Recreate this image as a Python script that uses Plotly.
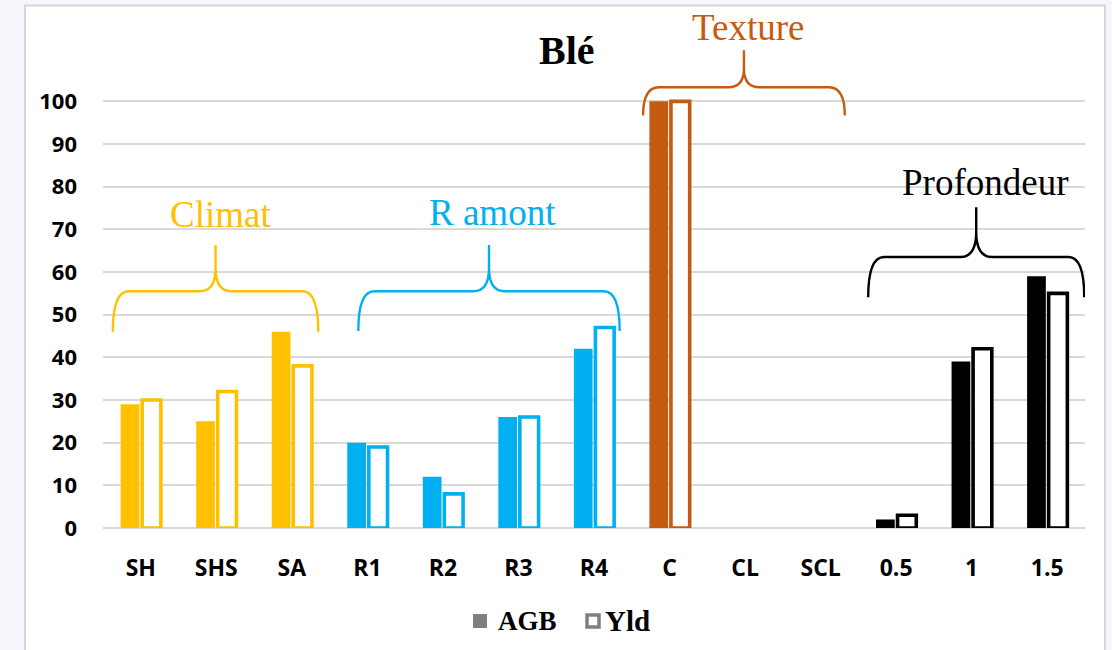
import plotly.graph_objects as go

# Categories and values (percent)
categories = ["SH", "SHS", "SA", "R1", "R2", "R3", "R4", "C", "CL", "SCL", "0.5", "1", "1.5"]
agb = [29, 25, 46, 20, 12, 26, 42, 100, 0, 0, 2, 39, 59]
yld = [30, 32, 38, 19, 8, 26, 47, 100, 0, 0, 3, 42, 55]
y_ticks = [0, 10, 20, 30, 40, 50, 60, 70, 80, 90, 100]
series_names = ["AGB", "Yld"]

# Factor groups: label, colour, first and last category index
groups = [
    ("Climat", "#FFC000", 0, 2),
    ("R amont", "#00B0F0", 3, 6),
    ("Texture", "#C55A11", 7, 9),
    ("Profondeur", "#000000", 10, 12),
]

# Brace geometry per group (x span in category units, heights in axis units)
brace_spec = {
    "Climat":     dict(x0=-0.37, x1=2.35, y_end=46.0, y_h=55.5, y_tip=66.3, y_txt=73.5, x_txt=1.05),
    "R amont":    dict(x0=2.88, x1=6.34, y_end=46.2, y_h=55.5, y_tip=66.3, y_txt=74.0, x_txt=4.66),
    "Texture":    dict(x0=6.65, x1=9.32, y_end=96.7, y_h=103.3, y_tip=112.0, y_txt=117.2, x_txt=8.04),
    "Profondeur": dict(x0=9.63, x1=12.49, y_end=54.1, y_h=63.5, y_tip=75.2, y_txt=81.0, x_txt=11.18),
}

colour_of = {}
for name, col, i0, i1 in groups:
    for i in range(i0, i1 + 1):
        colour_of[i] = col
bar_colours = [colour_of[i] for i in range(len(categories))]
xs = list(range(len(categories)))

fig = go.Figure()
fig.add_trace(go.Bar(
    x=xs, y=agb, name=series_names[0], showlegend=False,
    marker=dict(color=bar_colours, line=dict(width=0)),
))
fig.add_trace(go.Bar(
    x=xs, y=yld, name=series_names[1], showlegend=False,
    marker=dict(color="white",
                line=dict(color=bar_colours, width=[3.6 if v > 0 else 0 for v in yld])),
))

L, R, T, B = 103, 27, 16, 122
W, H = 1112, 650
pw, ph = W - L - R, H - T - B


def px_x(p):
    return (p - L) / pw


def px_y(p):
    return (H - B - p) / ph


shapes = []
# Outer white card with grey border
shapes.append(dict(type="rect", xref="paper", yref="paper",
                   x0=px_x(25), x1=px_x(1105), y0=-0.4, y1=px_y(5.5),
                   fillcolor="white", line=dict(color="#d6d6d6", width=2),
                   layer="below"))

annotations = []
for name, col, i0, i1 in groups:
    s = brace_spec[name]
    x0, x1, ye, yh, yt = s["x0"], s["x1"], s["y_end"], s["y_h"], s["y_tip"]
    xm = (x0 + x1) / 2
    dx = 0.21
    dyc = (yt - yh) * 0.5
    path = (f"M {x0},{ye} Q {x0},{yh} {x0 + dx},{yh} L {xm - dx},{yh} "
            f"Q {xm},{yh} {xm},{yh + dyc} L {xm},{yt} "
            f"M {xm},{yh + dyc} Q {xm},{yh} {xm + dx},{yh} L {x1 - dx},{yh} "
            f"Q {x1},{yh} {x1},{ye}")
    shapes.append(dict(type="path", xref="x", yref="y", path=path,
                       line=dict(color=col, width=2.4), layer="above"))
    annotations.append(dict(x=s["x_txt"], y=s["y_txt"], xref="x", yref="y",
                            text=name, showarrow=False,
                            font=dict(family="Liberation Serif", size=37, color=col),
                            xanchor="center", yanchor="middle"))

# Title
annotations.append(dict(x=px_x(567), y=px_y(50), xref="paper", yref="paper",
                        text="<b>Blé</b>", showarrow=False,
                        font=dict(family="Liberation Serif", size=40, color="black"),
                        xanchor="center", yanchor="middle"))

# Legend: filled and hollow grey keys with bold labels
legend_font = dict(family="Liberation Serif", size=27, color="black")
shapes.append(dict(type="rect", xref="paper", yref="paper",
                   x0=px_x(473), x1=px_x(487), y0=px_y(628), y1=px_y(614),
                   fillcolor="#808080", line=dict(width=0)))
shapes.append(dict(type="rect", xref="paper", yref="paper",
                   x0=px_x(587), x1=px_x(599), y0=px_y(627), y1=px_y(615),
                   fillcolor="white", line=dict(color="#808080", width=3.5)))
annotations.append(dict(x=px_x(496), y=px_y(621), xref="paper", yref="paper",
                        text=f"<b>{series_names[0]}</b>", showarrow=False,
                        font=legend_font, xanchor="left", yanchor="middle"))
annotations.append(dict(x=px_x(603), y=px_y(621), xref="paper", yref="paper",
                        text=f"<b>{series_names[1]}</b>", showarrow=False,
                        font=dict(legend_font, size=29), xanchor="left", yanchor="middle"))

fig.update_layout(
    width=W, height=H,
    margin=dict(l=L, r=R, t=T, b=B),
    paper_bgcolor="#f4f6fb",
    plot_bgcolor="white",
    barmode="group", bargap=0.43, bargroupgap=0.13,
    shapes=shapes, annotations=annotations,
    showlegend=False,
    xaxis=dict(range=[-0.5, 12.5], tickvals=xs, ticktext=categories,
               showgrid=False, zeroline=False, showline=False, ticks="",
               ticklabelstandoff=24,
               tickfont=dict(family="Open Sans", size=23, color="black", weight="bold")),
    yaxis=dict(range=[0, 120], tickvals=y_ticks, showgrid=True,
               gridcolor="#d9d9d9", gridwidth=1.5, zeroline=True,
               zerolinecolor="#d9d9d9", zerolinewidth=1.5, showline=False, ticks="",
               ticklabelstandoff=25,
               tickfont=dict(family="Open Sans", size=22, color="black", weight="bold")),
)

fig.write_html("out.html")
